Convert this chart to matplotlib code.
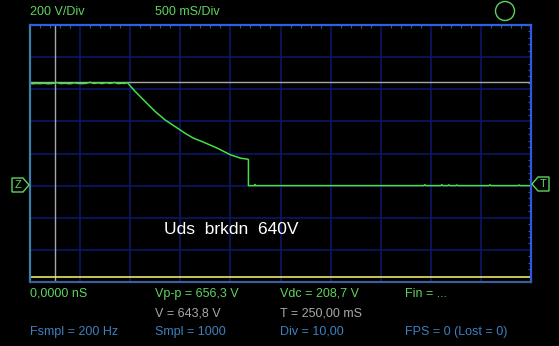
import matplotlib
matplotlib.use("Agg")
import matplotlib.pyplot as plt
from matplotlib.patches import Polygon
from matplotlib.ticker import MultipleLocator

# scope settings
volts_per_div = 200
secs_per_div = 0.5
n_div_x = 10
v_min, v_max = -600, 1000

# trace (seconds, volts)
t_flat = [0.00, 0.03, 0.06, 0.10, 0.14, 0.18, 0.22, 0.27, 0.31, 0.35, 0.40,
          0.44, 0.48, 0.52, 0.56, 0.60, 0.64, 0.68, 0.72, 0.76, 0.80, 0.84,
          0.88, 0.92, 0.95]
v_flat = [636, 634, 636, 635, 637, 634, 636, 641, 635, 637, 634,
          640, 636, 635, 637, 643, 636, 640, 635, 641, 636, 642,
          635, 637, 636]
t_fall = [0.97, 1.05, 1.15, 1.25, 1.35, 1.45, 1.55, 1.63, 1.73, 1.87, 2.00,
          2.10, 2.17]
v_fall = [642, 586, 523, 461, 408, 367, 325, 296, 271, 233, 192,
          171, 165]
t_tail = [2.18, 2.18, 2.24, 2.245, 2.25, 2.60, 3.10, 3.50, 3.93, 3.94, 3.95,
          4.10, 4.11, 4.12, 4.17, 4.18, 4.19, 4.25, 4.26, 4.27, 4.58, 4.59,
          4.60, 4.87, 4.88, 4.89, 5.00]
v_tail = [162, 0, 0, 7, 0, 0, 0, 0, 0, 6, 0,
          0, 6, 0, 0, 5, 0, 0, 4, 0, 0, 5,
          0, 0, 4, 0, 0]

cursor_t = 0.25
cursor_v = 643.8
cursor_low = -570

top_left = ["200 V/Div", "500 mS/Div"]
readout = [
    (30, 294, "0,0000 nS", "g"), (155, 294, "Vp-p = 656,3 V", "g"),
    (280, 294, "Vdc = 208,7 V", "g"), (405, 294, "Fin = ...", "g"),
    (155, 313, "V = 643,8 V", "w"), (280, 313, "T = 250,00 mS", "w"),
    (30, 332, "Fsmpl = 200 Hz", "b"), (155, 332, "Smpl = 1000", "b"),
    (280, 332, "Div = 10,00", "b"), (405, 332, "FPS = 0 (Lost = 0)", "b"),
]
label = "Uds  brkdn  640V"

W, H = 559, 346
green = "#5ed45e"
trace = "#44e044"
grey = "#a8a8a8"
blue_txt = "#3f7fbf"
cols = {"g": green, "w": grey, "b": blue_txt}


def fx(px):
    return px / W


def fy(py):
    return 1 - py / H


plt.rcParams["font.family"] = ["Liberation Sans", "DejaVu Sans"]
fig = plt.figure(figsize=(W / 100, H / 100), dpi=100, facecolor="black")
ax = fig.add_axes([fx(30), fy(282), fx(531) - fx(30), fy(25) - fy(282)])
ax.set_facecolor("black")

ax.set_xlim(0, n_div_x * secs_per_div)
ax.set_ylim(v_min, v_max)
ax.xaxis.set_major_locator(MultipleLocator(secs_per_div))
ax.yaxis.set_major_locator(MultipleLocator(volts_per_div))
ax.xaxis.set_minor_locator(MultipleLocator(secs_per_div / 5))
ax.yaxis.set_minor_locator(MultipleLocator(volts_per_div / 5))
ax.grid(True, which="major", color="#0c1870", lw=1.1)
ax.tick_params(which="both", direction="in", top=True, right=True,
               bottom=False, left=False, labelbottom=False, labelleft=False,
               color="#3050b0")
ax.tick_params(which="major", length=0)
ax.tick_params(which="minor", length=2, width=0.8)

ax.spines["left"].set_color("#3a7fa8")
ax.spines["top"].set_color("#3060dd")
ax.spines["right"].set_color("#2f58e0")
ax.spines["bottom"].set_color("#3d5f98")
for s in ax.spines.values():
    s.set_linewidth(1.6)

# cursors
ax.axvline(cursor_t, color=grey, lw=1)
ax.axhline(cursor_v, color=grey, lw=1)
ax.axhline(cursor_low, color="#e8e860", lw=1.2)

ax.plot(t_flat + t_fall + t_tail, v_flat + v_fall + v_tail, color=trace, lw=1.1)

fig.text(fx(164), fy(230), label, color="white", fontsize=12.5,
         va="center", ha="left")

# header
fig.text(fx(30), fy(12), top_left[0], color=green, fontsize=9, va="center")
fig.text(fx(155), fy(12), top_left[1], color=green, fontsize=9, va="center")
circ = plt.Circle((505, H - 11), 9.5, transform=None, fill=False,
                  ec=green, lw=1)
fig.add_artist(circ)

for px, py, s, c in readout:
    fig.text(fx(px), fy(py), s, color=cols[c], fontsize=9, va="center")

# ground / trigger markers
z = Polygon([(fx(12), fy(178)), (fx(23), fy(178)), (fx(29), fy(185)),
             (fx(23), fy(192)), (fx(12), fy(192))], closed=True, fill=False,
            ec=green, lw=1, transform=fig.transFigure)
fig.add_artist(z)
fig.text(fx(18), fy(185), "Z", color=green, fontsize=8, ha="center",
         va="center")
tm = Polygon([(fx(549), fy(177)), (fx(538), fy(177)), (fx(532), fy(184)),
              (fx(538), fy(191)), (fx(549), fy(191))], closed=True,
             fill=False, ec=green, lw=1, transform=fig.transFigure)
fig.add_artist(tm)
fig.text(fx(543), fy(184), "T", color=green, fontsize=8, ha="center",
         va="center")

fig.savefig("out.png", dpi=100, facecolor="black")
